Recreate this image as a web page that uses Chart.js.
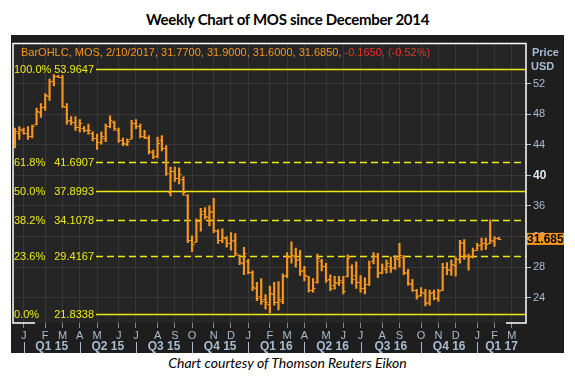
<!DOCTYPE html>
<html>
<head>
<meta charset="utf-8">
<script src="https://cdn.jsdelivr.net/npm/chart.js@4.4.0/dist/chart.umd.min.js"></script>
<style>
  html, body { margin: 0; padding: 0; background: #fff; }
  body { width: 575px; height: 376px; position: relative; overflow: hidden; }
  #title { position: absolute; left: 0; top: 10px; width: 575px; text-align: center; font: bold 15px Lato, sans-serif; letter-spacing: -0.3px; color: #000; }
  #panel { position: absolute; left: 11px; top: 35px; width: 553px; height: 318px; background: #1e1e1e; }
  #caption { position: absolute; left: 0; top: 354px; width: 575px; text-align: center; font: italic 14px Lato, sans-serif; color: #000; }
</style>
</head>
<body>
<div id="title">Weekly Chart of MOS since December 2014</div>
<div id="panel"><canvas id="chart" width="553" height="318"></canvas></div>
<div id="caption">Chart courtesy of Thomson Reuters Eikon</div>
<script>
// weekly bars, week 0 = 19 Dec 2014, last = 10 Feb 2017
const highs = [46.2,46.4,46.2,46.4,46.6,48.8,49.4,50.7,52.6,53.2, 53.1,53.1,49.4,47.7,47.7,47.3,46.4,46.7,45.7,45.4,
  45.7,46.7,47.8,47.1,46.2,44.9,44.8,47.2,47.3,46.7, 45.9,45.2,43.3,45.0,45.2,43.9,41.1,41.1,41.0,39.8,
  37.5,32.1,34.3,35.7,35.8,36.0,37.0,32.9,33.0,32.0, 32.5,32.4,29.6,30.6,29.0,27.5,26.0,26.5,24.4,25.5,
  26.0,26.1,27.1,29.9,31.3,30.5,30.2,28.1,26.8,26.5, 29.7,29.0,28.5,27.0,26.8,26.8,26.8,29.6,28.3,28.7,
  26.9,26.6,28.8,29.9,29.8,28.4,28.9,29.3,29.5,31.1, 29.5,27.7,26.4,25.1,25.3,25.1,25.0,25.0,25.1,28.5,
  28.6,28.9,29.3,31.5,31.6,29.7,30.5,31.1,31.8,31.8, 34.2,32.0,31.9];
const lows = [43.6,44.7,45.4,44.7,44.9,46.6,47.6,48.5,49.8,51.7, 52.8,48.9,46.7,46.6,45.9,45.7,45.7,45.4,44.5,43.4,
  44.1,44.4,46.2,45.9,44.3,43.9,43.9,44.8,46.1,44.9, 44.8,42.8,42.2,42.3,43.2,40.0,37.3,39.2,38.9,37.4,
  31.2,30.0,31.3,32.7,34.3,33.4,32.5,31.1,31.2,30.6, 30.2,29.5,28.3,27.0,27.1,24.9,23.6,23.1,22.5,22.0,
  23.0,22.4,23.2,26.6,28.5,28.0,26.9,26.2,24.7,24.7, 25.9,27.5,26.0,24.9,25.1,25.6,24.5,26.7,25.8,25.2,
  24.7,24.5,25.6,28.4,26.6,27.1,27.2,27.3,27.7,28.0, 27.0,25.6,24.8,23.8,24.2,22.9,23.0,23.7,23.5,24.9,
  27.0,26.9,26.8,28.5,29.0,27.6,29.2,30.2,30.2,30.3, 31.1,30.7,31.6];
const opens = [44.4,45.6,46.0,45.6,45.2,46.7,48.3,48.9,50.4,52.3, 53.0,52.9,49.0,47.2,47.0,46.3,46.2,45.9,45.6,44.9,
  44.4,44.9,46.4,47.0,46.0,44.6,44.1,44.8,46.9,46.4, 45.1,44.9,43.0,42.6,44.6,43.6,37.8,40.6,39.6,39.5,
  37.4,31.6,31.3,34.0,35.4,34.6,35.3,32.7,31.6,31.8, 31.1,31.5,29.6,28.5,28.8,27.3,25.3,24.2,23.8,23.2,
  24.5,23.4,23.6,26.9,29.4,29.4,29.0,27.6,26.8,25.0, 26.0,28.8,28.2,26.4,25.6,25.9,26.1,26.8,28.0,27.0,
  26.0,25.3,25.8,28.8,29.4,27.4,27.8,28.2,28.0,29.0, 29.3,27.2,25.8,25.0,24.3,24.6,23.4,24.7,24.0,25.0,
  28.0,27.6,28.3,29.1,31.2,29.4,29.4,30.3,30.9,31.2, 31.1,31.4,31.77];
const closes = [45.8,46.1,45.6,45.2,46.4,48.4,48.9,50.5,52.3,53.0, 52.9,49.1,47.1,47.0,46.3,46.9,45.9,46.0,44.9,44.4,
  45.2,46.4,47.3,46.2,44.6,44.2,44.5,46.9,46.5,45.2, 45.0,43.2,42.6,44.3,43.6,40.3,40.6,39.6,40.2,37.8,
  31.6,31.0,34.0,35.0,34.7,35.2,32.8,31.6,32.0,31.2, 31.4,29.8,28.6,29.8,27.4,25.4,24.0,23.6,23.4,24.6,
  23.4,23.8,26.8,29.3,29.6,28.9,27.5,26.9,25.0,25.2, 29.2,28.2,26.3,25.3,26.0,26.3,24.9,29.2,26.5,26.0,
  25.2,25.8,28.0,29.5,27.2,28.0,28.5,27.9,29.2,29.6, 27.3,25.9,25.0,24.2,24.8,23.3,24.6,24.0,24.9,28.0,
  27.8,28.4,29.0,31.3,29.6,29.3,30.2,30.9,31.2,31.0, 31.6,31.8,31.685];

// first week of each month (week index) and its letter
const monthTicks = [2,7,11,15,19,24,28,33,37,41,46,50,54,59,63,67,72,76,80,85,89,94,98,102,107,111,115];
const monthLetters = ['J','F','M','A','M','J','J','A','S','O','N','D','J','F','M','A','M','J','J','A','S','O','N','D','J','F','M'];
const quarterStarts = [2,15,28,41,54,67,80,94,107];
const quarterNames = ['Q1 15','Q2 15','Q3 15','Q4 15','Q1 16','Q2 16','Q3 16','Q4 16','Q1 17'];
const yTicks = [24,28,32,36,40,44,48,52];

const fibPct = ['100.0%','61.8%','50.0%','38.2%','23.6%','0.0%'];
const fibVal = [53.9647,41.6907,37.8993,34.1078,29.4167,21.8338];
const fibDashed = [false,true,false,true,true,false];

const lastPrice = 31.685;
const legendMain = 'BarOHLC, MOS, 2/10/2017, 31.7700, 31.9000, 31.6000, 31.6850, ';
const legendChg = '-0.1650, (-0.52%)';

const ORANGE = '#f7961e';
const YELLOW = '#eeea14';
const AXIS = '#a9bcd2';
const GRID = '#383838';
const FONT = '"Liberation Sans", Arial, sans-serif';

const isForty = c => c.tick && c.tick.value === 40;

const plotBg = {
  id: 'plotBg',
  beforeDraw(chart) {
    const a = chart.chartArea, ctx = chart.ctx;
    ctx.save();
    ctx.fillStyle = '#252525';
    ctx.fillRect(a.left, a.top, a.right - a.left, a.bottom - a.top);
    ctx.restore();
  }
};

const fibLines = {
  id: 'fibLines',
  beforeDatasetsDraw(chart) {
    const a = chart.chartArea, ctx = chart.ctx, y = chart.scales.y;
    ctx.save();
    ctx.beginPath();
    ctx.rect(a.left, a.top, a.right - a.left, a.bottom - a.top);
    ctx.clip();
    ctx.font = '11px ' + FONT;
    ctx.textBaseline = 'middle';
    fibVal.forEach((v, i) => {
      const py = Math.round(y.getPixelForValue(v)) + 0.5;
      ctx.fillStyle = YELLOW;
      ctx.textAlign = 'left';
      ctx.fillText(fibPct[i], a.left + 1, py);
      ctx.textAlign = 'right';
      ctx.fillText(v.toFixed(4), a.left + 81, py);
      ctx.strokeStyle = YELLOW;
      ctx.lineWidth = 1.5;
      ctx.setLineDash(fibDashed[i] ? [7, 4] : []);
      ctx.beginPath();
      ctx.moveTo(a.left + 83, py);
      ctx.lineTo(a.right, py);
      ctx.stroke();
    });
    ctx.restore();
  }
};

const ohlcTicks = {
  id: 'ohlcTicks',
  afterDatasetsDraw(chart) {
    const ctx = chart.ctx, y = chart.scales.y;
    const bars = chart.getDatasetMeta(0).data;
    ctx.save();
    ctx.strokeStyle = ORANGE;
    ctx.lineWidth = 1;
    bars.forEach((bar, i) => {
      const yo = Math.round(y.getPixelForValue(opens[i])) + 0.5;
      const yc = Math.round(y.getPixelForValue(closes[i])) + 0.5;
      ctx.beginPath();
      ctx.moveTo(bar.x - 2.5, yo); ctx.lineTo(bar.x, yo);
      ctx.moveTo(bar.x, yc); ctx.lineTo(bar.x + 2.5, yc);
      ctx.stroke();
    });
    ctx.restore();
  }
};

const overlay = {
  id: 'overlay',
  afterDraw(chart) {
    const a = chart.chartArea, ctx = chart.ctx, x = chart.scales.x, y = chart.scales.y;
    ctx.save();
    // white frame, bottom only at the corners
    ctx.strokeStyle = '#ffffff';
    ctx.lineWidth = 1.5;
    ctx.beginPath();
    ctx.moveTo(a.left + 22, a.bottom); ctx.lineTo(a.left, a.bottom);
    ctx.lineTo(a.left, a.top); ctx.lineTo(a.right, a.top);
    ctx.lineTo(a.right, a.bottom); ctx.lineTo(a.right - 20, a.bottom);
    ctx.stroke();

    // legend line
    ctx.font = '11px ' + FONT;
    ctx.textBaseline = 'middle';
    ctx.textAlign = 'left';
    ctx.fillStyle = ORANGE;
    ctx.fillText(legendMain, a.left + 8, a.top + 9);
    const w = ctx.measureText(legendMain).width;
    ctx.fillStyle = '#e8312a';
    ctx.fillText(legendChg, a.left + 8 + w, a.top + 9);

    // axis title
    ctx.font = 'bold 11px ' + FONT;
    ctx.fillStyle = AXIS;
    ctx.fillText('Price', a.right + 6, a.top + 9);
    ctx.fillText('USD', a.right + 5, a.top + 23);

    // last price marker
    const py = y.getPixelForValue(lastPrice);
    ctx.fillStyle = ORANGE;
    ctx.fillRect(a.right + 1, py - 6, 37, 12);
    ctx.fillStyle = '#000';
    ctx.font = 'bold 12px ' + FONT;
    ctx.fillText(lastPrice.toFixed(3), a.right + 1, py + 0.5);

    // quarter row
    ctx.font = 'bold 12px ' + FONT;
    ctx.textAlign = 'center';
    ctx.strokeStyle = AXIS;
    ctx.lineWidth = 1;
    quarterStarts.forEach((s, i) => {
      const x0 = x.getPixelForValue(s);
      const x1 = i < quarterStarts.length - 1 ? x.getPixelForValue(quarterStarts[i + 1]) : a.right;
      const sx = Math.round(x0) + 0.5;
      ctx.beginPath();
      ctx.moveTo(sx, a.bottom + 19); ctx.lineTo(sx, a.bottom + 30);
      ctx.stroke();
      ctx.fillStyle = AXIS;
      ctx.fillText(quarterNames[i], (x0 + x1) / 2, a.bottom + 24);
    });
    ctx.restore();
  }
};

new Chart(document.getElementById('chart'), {
  type: 'bar',
  data: {
    datasets: [{
      data: highs.map((h, i) => ({ x: i, y: [lows[i], h] })),
      backgroundColor: ORANGE,
      barThickness: 1.5,
      borderWidth: 0
    }]
  },
  options: {
    responsive: false,
    animation: false,
    layout: { padding: { left: 2, top: 2, right: 0, bottom: 0 } },
    plugins: { legend: { display: false }, tooltip: { enabled: false } },
    scales: {
      x: {
        type: 'linear',
        min: -0.46,
        max: 118.29,
        offset: false,
        afterBuildTicks: s => { s.ticks = monthTicks.map(v => ({ value: v })); },
        afterFit: s => { s.height = 30; },
        ticks: {
          callback: v => monthLetters[monthTicks.indexOf(v)],
          color: AXIS,
          font: { family: FONT, size: 11 },
          padding: 1,
          maxRotation: 0,
          autoSkip: false
        },
        grid: { color: GRID, offset: false, tickColor: '#8a8a8a', tickLength: 5 },
        border: { display: false }
      },
      y: {
        position: 'right',
        min: 20.68,
        max: 57.25,
        afterBuildTicks: s => { s.ticks = yTicks.map(v => ({ value: v })); },
        afterFit: s => { s.width = 38; },
        ticks: {
          color: c => isForty(c) ? '#dde6f0' : AXIS,
          font: c => ({ family: FONT, size: isForty(c) ? 12 : 11, weight: isForty(c) ? 'bold' : 'normal' }),
          padding: 2
        },
        grid: { color: GRID, tickColor: AXIS, tickLength: 5 },
        border: { display: false }
      }
    }
  },
  plugins: [plotBg, fibLines, ohlcTicks, overlay]
});
</script>
</body>
</html>
